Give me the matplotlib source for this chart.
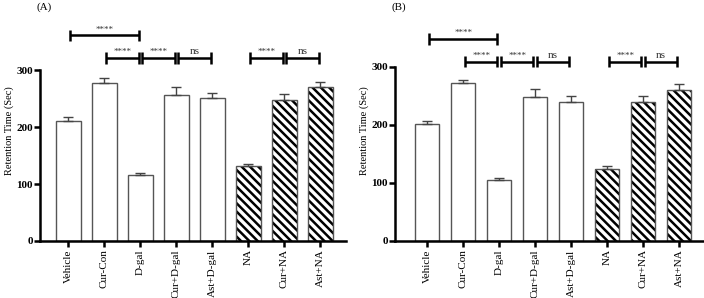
import numpy as np
import matplotlib
matplotlib.use("Agg")
import matplotlib.pyplot as plt

plt.rcParams["font.family"] = ["Liberation Serif", "DejaVu Serif"]
plt.rcParams["hatch.linewidth"] = 1.8
plt.rcParams["hatch.color"] = "black"

groups = ["Vehicle", "Cur-Con", "D-gal", "Cur+D-gal", "Ast+D-gal", "NA", "Cur+NA", "Ast+NA"]
hatched = [False, False, False, False, False, True, True, True]

mean_a = [210, 277, 116, 256, 251, 132, 247, 270]
err_a = [7, 9, 3, 14, 9, 3, 11, 9]
mean_b = [202, 272, 105, 248, 240, 124, 240, 260]
err_b = [5, 6, 4, 14, 10, 5, 10, 10]

# significance brackets: (from group, to group, label)
sig_top = [(0, 2, "****")]
sig_row = [(1, 2, "****"), (2, 3, "****"), (3, 4, "ns"), (5, 6, "****"), (6, 7, "ns")]
sig_y_a = (361, 321)
sig_y_b = (348, 309)


def bracket(ax, i, j, y, label, tick):
    x1, x2 = i + 0.05, j - 0.05
    kw = dict(color="black", lw=1.8, solid_capstyle="butt")
    ax.plot([x1, x2], [y, y], **kw)
    ax.plot([x1, x1], [y - tick, y + tick], **kw)
    ax.plot([x2, x2], [y - tick, y + tick], **kw)
    fs = 6.5 if label.startswith("*") else 8
    ax.text((x1 + x2) / 2, y + 3, label, ha="center", va="bottom",
            fontsize=fs, color="#333333")


def draw_panel(ax, means, errs, sig_y, ymax, tag):
    x = np.arange(len(groups))
    for xi, m, e, h in zip(x, means, errs, hatched):
        if h:
            # hatch in black, outline in grey on top
            ax.bar(xi, m, width=0.67, color="white", edgecolor="black", lw=0,
                   hatch="\\\\\\\\", zorder=2)
        ax.bar(xi, m, width=0.67, fill=False, edgecolor="#555555", lw=1.0, zorder=2.5)
        ax.errorbar(xi, m, yerr=[[0], [e]], fmt="none", ecolor="#444444",
                    elinewidth=1.0, capsize=3.5, capthick=1.0, zorder=3)
    for i, j, lab in sig_top:
        bracket(ax, i, j, sig_y[0], lab, 10)
    for i, j, lab in sig_row:
        bracket(ax, i, j, sig_y[1], lab, 10)
    ax.set_ylim(0, ymax)
    ax.set_yticks([0, 100, 200, 300])
    ax.spines["left"].set_bounds(0, 300)
    for s in ("top", "right"):
        ax.spines[s].set_visible(False)
    for s in ("left", "bottom"):
        ax.spines[s].set_linewidth(1.8)
    ax.tick_params(axis="y", length=4, width=1.8, labelsize=8, pad=1)
    ax.tick_params(axis="x", length=4, width=1.8, labelsize=8, pad=2)
    for t in ax.get_yticklabels():
        t.set_fontweight("bold")
    ax.set_xticks(x)
    ax.set_xticklabels(groups, rotation=90)
    ax.set_ylabel("Retention Time (Sec)", fontsize=7.5, labelpad=2)
    ax.text(-0.01, 1.065, tag, transform=ax.transAxes, fontsize=8, va="center")


fig = plt.figure(figsize=(7.04, 2.98), dpi=100)
ax_a = fig.add_axes([40 / 704, 57 / 298, 306 / 704, 220 / 298])
ax_b = fig.add_axes([395 / 704, 57 / 298, 309 / 704, 220 / 298])

draw_panel(ax_a, mean_a, err_a, sig_y_a, 386, "(A)")
ax_a.set_xlim(-0.79, 7.71)
draw_panel(ax_b, mean_b, err_b, sig_y_b, 379, "(B)")
ax_b.set_xlim(-0.89, 7.69)

fig.savefig("out.png", dpi=100)
